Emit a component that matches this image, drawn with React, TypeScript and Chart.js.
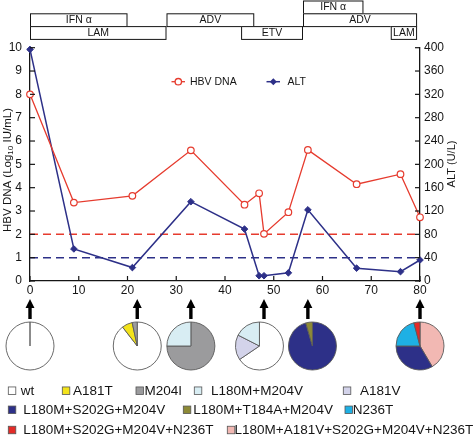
import React, { useEffect, useRef } from "react";
import { Chart, registerables } from "chart.js";

Chart.register(...registerables);

// ---------- DATA ----------
const months = [0, 9, 21, 33, 44, 47, 48, 53, 57, 67, 76, 80];
const hbvDna = [8.0, 3.36, 3.65, 5.6, 3.27, 3.76, 2.02, 2.95, 5.62, 4.15, 4.58, 2.73];
const altValues = [397, 55, 23, 136, 89, 9, 9, 14, 122, 22, 16, 36];
const hbvCutoff = 2;
const altCutoff = 40;

const xTickMax = 80;
const xTickStep = 10;
const yLeftMax = 10;
const yRightMax = 400;
const yRightStep = 40;

const treatmentNames = ["IFN α", "LAM", "ADV", "ETV", "IFN α", "ADV", "LAM"];
const treatmentStart = [0, 0, 28, 43.3, 56, 56, 74];
const treatmentEnd = [20, 28, 46, 56, 68.4, 79.4, 79.4];
const treatmentRow = [1, 2, 1, 2, 0, 1, 2];

const sampleMonths = [0, 22, 33, 48, 57, 80];

const mutationNames = [
  "wt",
  "A181T",
  "M204I",
  "L180M+M204V",
  "A181V",
  "L180M+S202G+M204V",
  "L180M+T184A+M204V",
  "N236T",
  "L180M+S202G+M204V+N236T",
  "L180M+A181V+S202G+M204V+N236T",
];

// per sample: [mutation index, percent], clockwise from 12 o'clock
const pieSlices: [number, number][][] = [
  [[0, 100]],
  [[0, 89.5], [1, 7.1], [2, 3.4]],
  [[2, 75], [3, 25]],
  [[0, 65.5], [4, 17], [3, 17.5]],
  [[5, 95.5], [6, 4.5]],
  [[9, 41.5], [5, 33.5], [7, 20.9], [8, 4.1]],
];

// ---------- STYLE ----------
const RED = "#e63b2e";
const BLUE = "#2d3088";
const INK = "#151515";
const FONT = "'Liberation Sans', Arial, sans-serif";
const mutationColors = [
  "#ffffff",
  "#f3e31a",
  "#9b9b9d",
  "#d8edf3",
  "#d3d3ea",
  "#2d3088",
  "#8d8a36",
  "#1eb0e4",
  "#e32b28",
  "#f2b8b3",
];

const W = 475;
const H = 448;

const overlayPlugin = {
  id: "overlay",
  afterDraw(chart: any) {
    const ctx: CanvasRenderingContext2D = chart.ctx;
    const xs = chart.scales.x;
    const yl = chart.scales.y;
    const yr = chart.scales.y1;
    const area = chart.chartArea;
    ctx.save();

    // inward tick marks
    ctx.strokeStyle = INK;
    ctx.lineWidth = 1.2;
    const TL = 5;
    xs.ticks.forEach((t: any) => {
      const px = xs.getPixelForValue(t.value);
      ctx.beginPath();
      ctx.moveTo(px, area.bottom);
      ctx.lineTo(px, area.bottom - TL);
      ctx.stroke();
    });
    yl.ticks.forEach((t: any) => {
      const py = yl.getPixelForValue(t.value);
      ctx.beginPath();
      ctx.moveTo(area.left, py);
      ctx.lineTo(area.left + TL, py);
      ctx.stroke();
    });
    yr.ticks.forEach((t: any) => {
      const py = yr.getPixelForValue(t.value);
      ctx.beginPath();
      ctx.moveTo(area.right, py);
      ctx.lineTo(area.right - TL, py);
      ctx.stroke();
    });

    // treatment boxes
    const rowTop = 0.5;
    const rowH = 12.8;
    ctx.font = `10.5px ${FONT}`;
    ctx.textAlign = "center";
    ctx.textBaseline = "middle";
    treatmentNames.forEach((name, i) => {
      const x1 = xs.getPixelForValue(treatmentStart[i]);
      const x2 = xs.getPixelForValue(treatmentEnd[i]);
      const y1 = rowTop + treatmentRow[i] * rowH;
      ctx.fillStyle = "#fff";
      ctx.fillRect(x1, y1, x2 - x1, rowH);
      ctx.strokeStyle = INK;
      ctx.lineWidth = 1;
      ctx.strokeRect(x1 + 0.5, y1 + 0.5, x2 - x1 - 1, rowH);
      ctx.fillStyle = INK;
      ctx.fillText(name, (x1 + x2) / 2, y1 + rowH / 2 + 0.7);
    });

    // axis titles
    ctx.fillStyle = INK;
    {
      const main = `11.5px ${FONT}`;
      const sub = `8px ${FONT}`;
      const parts: [string, boolean][] = [
        ["HBV DNA (Log", false],
        ["10", true],
        [" IU/mL)", false],
      ];
      let total = 0;
      const widths = parts.map(([s, isSub]) => {
        ctx.font = isSub ? sub : main;
        const w = ctx.measureText(s).width;
        total += w;
        return w;
      });
      ctx.save();
      ctx.translate(7.5, 170);
      ctx.rotate(-Math.PI / 2);
      ctx.textAlign = "left";
      ctx.textBaseline = "middle";
      let cx = -total / 2;
      parts.forEach(([s, isSub], i) => {
        ctx.font = isSub ? sub : main;
        ctx.fillText(s, cx, isSub ? 3 : 0);
        cx += widths[i];
      });
      ctx.restore();
    }
    ctx.save();
    ctx.translate(452, 164);
    ctx.rotate(-Math.PI / 2);
    ctx.font = `11px ${FONT}`;
    ctx.textAlign = "center";
    ctx.textBaseline = "middle";
    ctx.fillText("ALT (U/L)", 0, 0);
    ctx.restore();

    // inner legend
    const ly = 81.7;
    ctx.lineWidth = 1.3;
    ctx.strokeStyle = RED;
    ctx.beginPath();
    ctx.moveTo(171.5, ly);
    ctx.lineTo(185, ly);
    ctx.stroke();
    ctx.fillStyle = "#fff";
    ctx.beginPath();
    ctx.arc(178.3, ly, 3.2, 0, Math.PI * 2);
    ctx.fill();
    ctx.stroke();
    ctx.strokeStyle = BLUE;
    ctx.lineWidth = 1.5;
    ctx.beginPath();
    ctx.moveTo(266.5, ly);
    ctx.lineTo(280, ly);
    ctx.stroke();
    ctx.fillStyle = BLUE;
    ctx.beginPath();
    ctx.moveTo(273.3, ly - 3.5);
    ctx.lineTo(276.8, ly);
    ctx.lineTo(273.3, ly + 3.5);
    ctx.lineTo(269.8, ly);
    ctx.closePath();
    ctx.fill();
    ctx.fillStyle = INK;
    ctx.font = `10.5px ${FONT}`;
    ctx.textAlign = "left";
    ctx.textBaseline = "middle";
    ctx.fillText("HBV DNA", 190, ly + 0.5);
    ctx.fillText("ALT", 287.5, ly + 0.5);

    // arrows
    const arrowX = sampleMonths.map((m) => xs.getPixelForValue(m));
    ctx.fillStyle = "#000";
    arrowX.forEach((ax) => {
      ctx.beginPath();
      ctx.moveTo(ax, 299);
      ctx.lineTo(ax + 4.5, 308);
      ctx.lineTo(ax + 1.7, 308);
      ctx.lineTo(ax + 1.7, 319);
      ctx.lineTo(ax - 1.7, 319);
      ctx.lineTo(ax - 1.7, 308);
      ctx.lineTo(ax - 4.5, 308);
      ctx.closePath();
      ctx.fill();
    });

    // pies
    const R = 24;
    const pcy = 346;
    const pieX = arrowX.slice();
    const minDist = 2 * R + 5;
    for (let it = 0; it < 6; it++) {
      for (let i = 0; i < pieX.length - 1; i++) {
        const d = pieX[i + 1] - pieX[i];
        if (d < minDist) {
          const push = (minDist - d) / 2;
          pieX[i] -= push;
          pieX[i + 1] += push;
        }
      }
    }
    pieSlices.forEach((slices, pi) => {
      const cx = pieX[pi];
      const sum = slices.reduce((s, v) => s + v[1], 0);
      let a = -Math.PI / 2;
      slices.forEach(([mi, pct]) => {
        const a2 = a + (pct / sum) * Math.PI * 2;
        ctx.beginPath();
        ctx.moveTo(cx, pcy);
        ctx.arc(cx, pcy, R, a, a2);
        ctx.closePath();
        ctx.fillStyle = mutationColors[mi];
        ctx.fill();
        ctx.strokeStyle = "#5a5a5a";
        ctx.lineWidth = 0.9;
        ctx.stroke();
        a = a2;
      });
    });

    // bottom legend
    const legendPos: [number, number, number, number][] = [
      [0, 8.3, 20.7, 390.7],
      [1, 62.3, 73, 390.7],
      [2, 136, 144.5, 390.7],
      [3, 194.3, 211, 390.7],
      [4, 343.3, 360, 390.7],
      [5, 8.3, 23.3, 409.8],
      [6, 183.3, 193.3, 409.8],
      [7, 345, 352.8, 409.8],
      [8, 8.3, 23.3, 430],
      [9, 227.3, 234.5, 430],
    ];
    ctx.font = `13.5px ${FONT}`;
    ctx.textAlign = "left";
    ctx.textBaseline = "middle";
    legendPos.forEach(([mi, bx, tx, ry]) => {
      const s = 7.5;
      ctx.fillStyle = mutationColors[mi];
      ctx.fillRect(bx, ry - s / 2, s, s);
      ctx.strokeStyle = "#555";
      ctx.lineWidth = 0.8;
      ctx.strokeRect(bx, ry - s / 2, s, s);
      ctx.fillStyle = INK;
      ctx.fillText(mutationNames[mi], tx, ry + 0.5);
    });

    ctx.restore();
  },
};

export default function App() {
  const ref = useRef<HTMLCanvasElement>(null);
  useEffect(() => {
    if (!ref.current) return;
    const tickFont = { family: FONT, size: 12 };
    const chart = new Chart(ref.current, {
      type: "line",
      data: {
        datasets: [
          {
            label: "HBV DNA",
            data: months.map((m, i) => ({ x: m, y: hbvDna[i] })),
            yAxisID: "y",
            borderColor: RED,
            backgroundColor: "#ffffff",
            pointBackgroundColor: "#ffffff",
            pointBorderColor: RED,
            pointStyle: "circle",
            pointRadius: 3.3,
            pointBorderWidth: 1.2,
            borderWidth: 1.3,
            tension: 0,
            clip: false,
            order: 0,
          },
          {
            label: "ALT",
            data: months.map((m, i) => ({ x: m, y: altValues[i] })),
            yAxisID: "y1",
            borderColor: BLUE,
            backgroundColor: BLUE,
            pointBackgroundColor: BLUE,
            pointBorderColor: BLUE,
            pointStyle: "rectRot",
            pointRadius: 3.3,
            pointBorderWidth: 1,
            borderWidth: 1.5,
            tension: 0,
            clip: false,
            order: 1,
          },
          {
            label: "HBV cutoff",
            data: [
              { x: 0, y: hbvCutoff },
              { x: xTickMax, y: hbvCutoff },
            ],
            yAxisID: "y",
            borderColor: RED,
            borderDash: [8, 5],
            borderWidth: 1.5,
            pointRadius: 0,
            order: 2,
          },
          {
            label: "ALT cutoff",
            data: [
              { x: 0, y: altCutoff },
              { x: xTickMax, y: altCutoff },
            ],
            yAxisID: "y1",
            borderColor: BLUE,
            borderDash: [8, 5],
            borderWidth: 1.5,
            pointRadius: 0,
            order: 3,
          },
        ] as any,
      },
      options: {
        animation: false,
        responsive: false,
        maintainAspectRatio: false,
        layout: { padding: { top: 47.7, left: 0, right: 0, bottom: 0 } },
        plugins: {
          legend: { display: false },
          tooltip: { enabled: false },
        },
        scales: {
          x: {
            type: "linear",
            min: 0,
            max: xTickMax,
            afterFit: (s: any) => {
              s.height = H - 281;
            },
            ticks: { stepSize: xTickStep, color: INK, font: tickFont, padding: 2, maxRotation: 0 },
            grid: { drawOnChartArea: false, drawTicks: false },
            border: { display: true, color: INK, width: 1.3 },
          },
          y: {
            type: "linear",
            position: "left",
            min: 0,
            max: yLeftMax,
            afterFit: (s: any) => {
              s.width = 30;
            },
            ticks: { stepSize: 1, color: INK, font: tickFont, padding: 8 },
            grid: { drawOnChartArea: false, drawTicks: false },
            border: { display: true, color: INK, width: 1.3 },
          },
          y1: {
            type: "linear",
            position: "right",
            min: 0,
            max: yRightMax,
            afterFit: (s: any) => {
              s.width = W - 420;
            },
            ticks: { stepSize: yRightStep, color: INK, font: tickFont, padding: 4 },
            grid: { drawOnChartArea: false, drawTicks: false },
            border: { display: true, color: INK, width: 1.3 },
          },
        },
      } as any,
      plugins: [overlayPlugin],
    });
    return () => chart.destroy();
  }, []);

  return (
    <div style={{ position: "absolute", left: 0, top: 0, width: W, height: H, background: "#fff" }}>
      <canvas ref={ref} width={W} height={H} style={{ width: W, height: H, display: "block" }} />
    </div>
  );
}
